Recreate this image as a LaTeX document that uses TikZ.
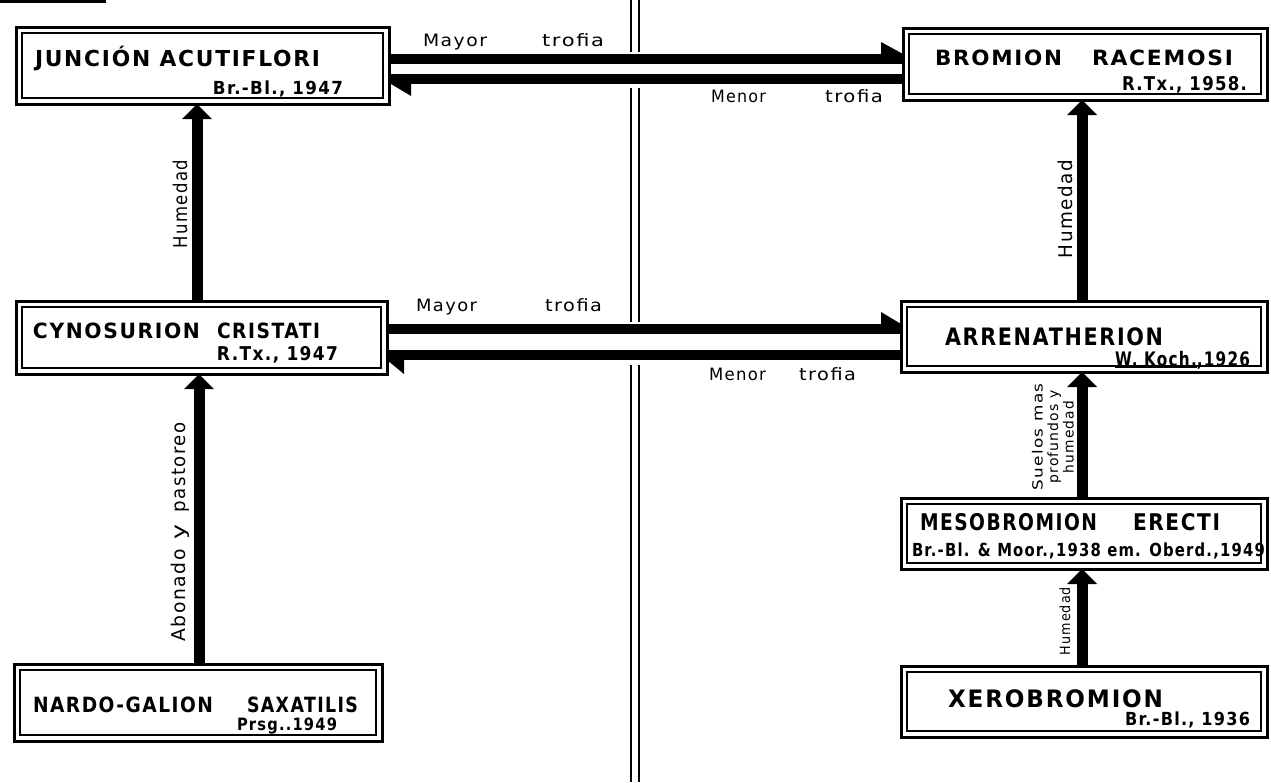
\documentclass[tikz,border=0pt]{standalone}
\usepackage{fontspec}
\setmainfont{DejaVu Sans}[LetterSpace=8]
\usetikzlibrary{arrows.meta,calc}
\newcommand\fw[3]{\resizebox{#1pt}{\height}{\fontsize{#2pt}{#2pt}\selectfont #3}}
\begin{document}
\begin{tikzpicture}[x=1pt,y=-1pt,
  box/.style={draw,line width=3pt,inner sep=0pt,outer sep=0pt},
  varrow/.style={line width=11pt,-{Triangle[length=15pt,width=30pt,line width=0pt]}},
  hbar/.style={line width=10pt},
  txt/.style={inner sep=0pt,outer sep=0pt,font=\bfseries},
  lbl/.style={inner sep=0pt,outer sep=0pt},
  vlbl/.style={inner sep=0pt,outer sep=0pt,rotate=90,anchor=base}]
\fill[white] (0,0) rectangle (1271,782);
\useasboundingbox (0,0) rectangle (1271,782);
% short bar top-left
\fill (0,0) rectangle (106,3);
% boxes
\node[box,minimum width=373pt,minimum height=77pt] (junc) at (202.5,65.5) {};
\node[box,minimum width=364pt,minimum height=72pt] (brom) at (1085,64) {};
\node[box,minimum width=371pt,minimum height=73pt] (cyno) at (201.5,337.5) {};
\node[box,minimum width=366pt,minimum height=71pt] (arre) at (1084,336.5) {};
\node[box,minimum width=366pt,minimum height=71pt] (meso) at (1084,533.5) {};
\node[box,minimum width=366pt,minimum height=71pt] (xero) at (1084,701.5) {};
\node[box,minimum width=368pt,minimum height=77pt] (nardo) at (198,702.5) {};
\foreach \n in {junc,brom,cyno,arre,meso,xero,nardo}
  \draw[line width=1.1pt] ([shift={(6,6)}]\n.north west) rectangle ([shift={(-6,-6)}]\n.south east);
% box texts
\node[txt,anchor=base west] (t1) at (35,66) {\fw{285}{22}{JUNCIÓN ACUTIFLORI}};
\node[txt,anchor=base east] (t1b) at (343,94) {\fw{130}{18}{Br.-Bl., 1947}};
\node[txt,anchor=base west] (t2) at (935,65) {\fw{127}{21}{BROMION}\hspace{30pt}\fw{141}{21}{RACEMOSI}};
\node[txt,anchor=base east] (t2b) at (1247,90) {\fw{125}{19}{R.Tx., 1958.}};
\node[txt,anchor=base west] (t3) at (33,338) {\fw{167}{21}{CYNOSURION}\hspace{17pt}\fw{103}{21}{CRISTATI}};
\node[txt,anchor=base east] (t3b) at (338,360) {\fw{121}{19}{R.Tx., 1947}};
\node[txt,anchor=base west] (t4) at (945,345) {\fw{218}{24}{ARRENATHERION}};
\node[txt,anchor=base east] (t4b) at (1250,366) {\fw{135}{20}{\underline{W. Koch.},1926}};
\node[txt,anchor=base west] (t5) at (920,530) {\fw{177}{23}{MESOBROMION}\hspace{36pt}\fw{87}{23}{ERECTI}};
\node[txt,anchor=base west] (t5b) at (912,556) {\fw{353}{18}{Br.-Bl. \& Moor.,1938 em. Oberd.,1949}};
\node[txt,anchor=base west] (t6) at (948,707) {\fw{215}{24}{XEROBROMION}};
\node[txt,anchor=base east] (t6b) at (1250,725) {\fw{125}{18}{Br.-Bl., 1936}};
\node[txt,anchor=base west] (t7) at (33,712) {\fw{180}{21}{NARDO-GALION}\hspace{34pt}\fw{111}{21}{SAXATILIS}};
\node[txt,anchor=base west] (t7b) at (237,730) {\fw{100}{17}{Prsg..1949}};
% central double line
\foreach \xx in {631,639} {
  \draw[line width=1.8pt] (\xx,0) -- (\xx,52);
  \draw[line width=1.8pt] (\xx,88) -- (\xx,322);
  \draw[line width=1.8pt] (\xx,365) -- (\xx,782);
}
% horizontal connectors
\coordinate (ya) at (0,59);
\coordinate (yb) at (0,79);
\coordinate (yc) at (0,329);
\coordinate (yd) at (0,355);
\draw[hbar] (junc.east |- ya) -- (brom.west |- ya);
\fill ($(brom.west |- ya)+(0,-5)$) -- ++(-22,0) -- ++(0,-12) -- cycle;
\draw[hbar] (brom.west |- yb) -- (junc.east |- yb);
\fill ($(junc.east |- yb)+(2,5)$) -- ++(20,0) -- ++(0,12) -- cycle;
\draw[hbar] (cyno.east |- yc) -- (arre.west |- yc);
\fill ($(arre.west |- yc)+(0,-5)$) -- ++(-20,0) -- ++(0,-12) -- cycle;
\draw[hbar] (arre.west |- yd) -- (cyno.east |- yd);
\fill ($(cyno.east |- yd)+(0,5)$) -- ++(17,0) -- ++(0,14) -- cycle;
% horizontal labels
\node[lbl,anchor=base west] (m1) at (423,46) {\fw{64}{17}{Mayor}\hspace{55pt}\fw{62}{17}{trofia}};
\node[lbl,anchor=base west] (n1) at (711,102) {\fw{55}{17}{Menor}\hspace{59pt}\fw{58}{17}{trofia}};
\node[lbl,anchor=base west] (m2) at (416,311) {\fw{61}{17}{Mayor}\hspace{68pt}\fw{57}{17}{trofia}};
\node[lbl,anchor=base west] (n2) at (709,380) {\fw{57}{17}{Menor}\hspace{33pt}\fw{57}{17}{trofia}};
% vertical connectors
\coordinate (xa) at (199,0);
\coordinate (xb) at (197,0);
\coordinate (xc) at (1082,0);
\draw[varrow] (nardo.north -| xa) -- (cyno.south -| xa);
\draw[varrow] (cyno.north -| xb) -- (junc.south -| xb);
\draw[varrow] (arre.north -| xc) -- (brom.south -| xc);
\draw[varrow] (meso.north -| xc) -- (arre.south -| xc);
\draw[varrow] (xero.north -| xc) -- (meso.south -| xc);
% vertical labels
\node[vlbl] (h1) at (187,204) {\fw{88}{19}{Humedad}};
\node[vlbl] (h2) at (185,532) {\fw{92}{19}{Abonado}\hspace{10pt}\fw{15}{19}{y}\hspace{12pt}\fw{90}{19}{pastoreo}};
\node[vlbl] (h3) at (1072,209) {\fw{98}{19}{Humedad}};
\node[inner sep=0pt,rotate=90,align=center,font=\fontsize{14pt}{15.5pt}\selectfont] (h4) at (1053,437) {\fw{107}{14}{Suelos mas}\\\fw{93}{14}{profundos y}\\\fw{72}{14}{humedad}};
\node[vlbl] (h5) at (1070,621) {\fw{68}{14}{Humedad}};
\end{tikzpicture}
\end{document}
